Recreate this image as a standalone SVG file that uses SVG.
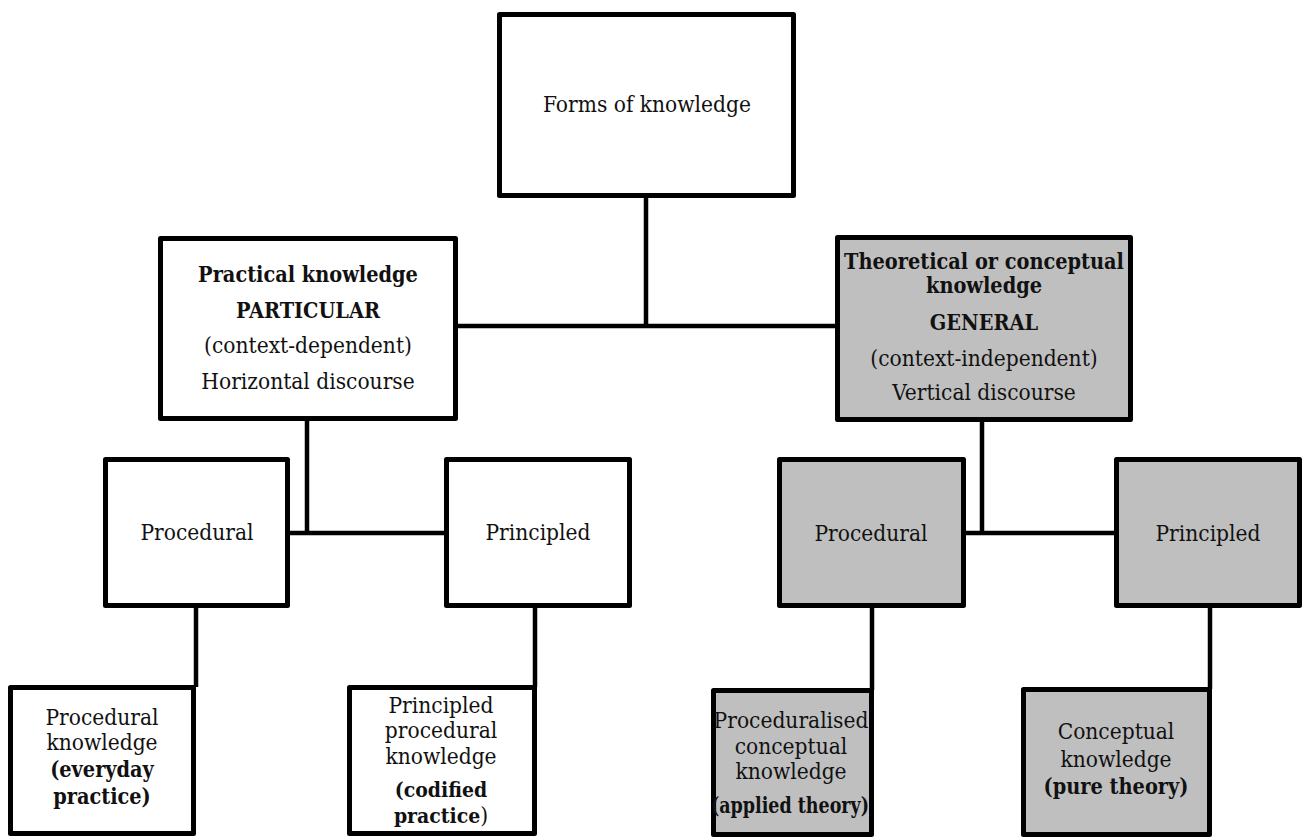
<svg xmlns="http://www.w3.org/2000/svg" width="1305" height="837" viewBox="0 0 1305 837">
  <style>
    .box { fill: #ffffff; stroke: #000000; stroke-width: 5; stroke-linejoin: round; }
    .grey { fill: #bfbfbf; }
    .link { fill: none; stroke: #000000; stroke-width: 4.5; stroke-linecap: butt; }
    text { font-family: "DejaVu Serif Condensed", "DejaVu Serif", "Liberation Serif", serif; font-stretch: condensed; font-size: 22.5px; fill: #111111; text-anchor: middle; }
    .b { font-weight: bold; font-size: 21.5px; }
    .bs { font-weight: bold; font-size: 21px; }
  </style>
  <rect width="1305" height="837" fill="#ffffff"/>

  <g id="connectors">
    <path class="link" d="M646 197 V326 M458 326 H836"/>
    <path class="link" d="M307 420 V533 M290 533 H445"/>
    <path class="link" d="M982 421 V533 M965 533 H1115"/>
    <path class="link" d="M196 607 V687"/>
    <path class="link" d="M535 607 V687"/>
    <path class="link" d="M872 607 V690"/>
    <path class="link" d="M1210 607 V689"/>
  </g>

  <g id="forms">
    <rect class="box" x="499.5" y="14.5" width="294" height="181"/>
    <text x="647" y="112">Forms of knowledge</text>
  </g>

  <g id="practical">
    <rect class="box" x="160.5" y="238.5" width="295" height="180"/>
    <text x="308" y="282" class="b">Practical knowledge</text>
    <text x="308" y="318" class="b">PARTICULAR</text>
    <text x="308" y="353">(context-dependent)</text>
    <text x="308" y="389">Horizontal discourse</text>
  </g>

  <g id="theoretical">
    <rect class="box grey" x="837.5" y="237.5" width="293" height="182"/>
    <text x="984" y="269" class="b">Theoretical or conceptual</text>
    <text x="984" y="293" class="b">knowledge</text>
    <text x="984" y="330" class="b">GENERAL</text>
    <text x="984" y="366">(context-independent)</text>
    <text x="984" y="400">Vertical discourse</text>
  </g>

  <g id="practical-procedural">
    <rect class="box" x="105.5" y="459.5" width="182" height="146"/>
    <text x="197" y="540">Procedural</text>
  </g>

  <g id="practical-principled">
    <rect class="box" x="446.5" y="459.5" width="183" height="146"/>
    <text x="538" y="540">Principled</text>
  </g>

  <g id="theoretical-procedural">
    <rect class="box grey" x="779.5" y="459.5" width="184" height="146"/>
    <text x="871" y="541">Procedural</text>
  </g>

  <g id="theoretical-principled">
    <rect class="box grey" x="1116.5" y="459.5" width="183" height="146"/>
    <text x="1208" y="541">Principled</text>
  </g>

  <g id="everyday-practice">
    <rect class="box" x="10.5" y="687.5" width="183" height="146"/>
    <text x="102" y="725">Procedural</text>
    <text x="102" y="750">knowledge</text>
    <text x="102" y="777" class="b">(everyday</text>
    <text x="102" y="804" class="b">practice)</text>
  </g>

  <g id="codified-practice">
    <rect class="box" x="349.5" y="687.5" width="185" height="146"/>
    <text x="441" y="713">Principled</text>
    <text x="441" y="738">procedural</text>
    <text x="441" y="764">knowledge</text>
    <text x="441" y="797" class="bs">(codified</text>
    <text x="441" y="823"><tspan class="bs">practice</tspan>)</text>
  </g>

  <g id="applied-theory">
    <rect class="box grey" x="713.5" y="690.5" width="158" height="144"/>
    <text x="791" y="728">Proceduralised</text>
    <text x="791" y="754">conceptual</text>
    <text x="791" y="779">knowledge</text>
    <text x="790" y="813" class="b" textLength="158" lengthAdjust="spacingAndGlyphs">(applied theory)</text>
  </g>

  <g id="pure-theory">
    <rect class="box grey" x="1023.5" y="689.5" width="186" height="145"/>
    <text x="1116" y="739">Conceptual</text>
    <text x="1116" y="767">knowledge</text>
    <text x="1116" y="794" class="b">(pure theory)</text>
  </g>
</svg>
